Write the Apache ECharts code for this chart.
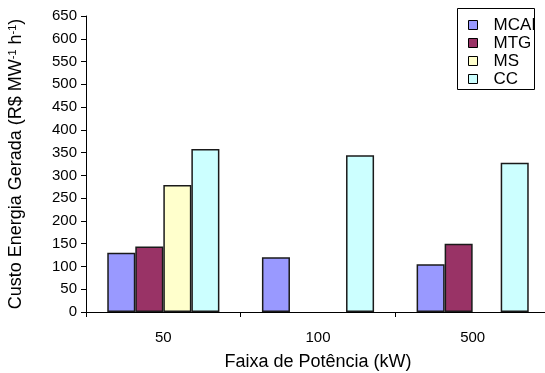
<!DOCTYPE html>
<html>
<head>
<meta charset="utf-8">
<script src="https://cdn.jsdelivr.net/npm/echarts@6/dist/echarts.min.js"></script>
<style>
html,body{margin:0;padding:0;background:#fff;}
#chart{width:545px;height:373px;}
</style>
</head>
<body>
<div id="chart"></div>
<script>
var categories = ['50', '100', '500'];
var seriesNames = ['MCAI', 'MTG', 'MS', 'CC'];
var mcai = [130, 120, 105];
var mtg = [144, null, 150];
var ms = [279, null, null];
var cc = [358, 344, 328];
var yTicks = {min: 0, max: 650, interval: 50};

var colors = ['#9999FF', '#993366', '#FFFFCC', '#CCFFFF'];
var FONT = 'Liberation Sans, Arial, sans-serif';
var chart = echarts.init(document.getElementById('chart'), null, {renderer: 'canvas'});

function bar(name, data, color) {
  return {
    name: name,
    type: 'bar',
    data: data,
    barGap: '0%',
    barCategoryGap: '27.5%',
    itemStyle: {color: color, borderColor: '#1a1a1a', borderWidth: 1.5},
    emphasis: {disabled: true}
  };
}

chart.setOption({
  backgroundColor: '#fff',
  animation: false,
  textStyle: {fontFamily: FONT, color: '#000'},
  grid: {left: 86, top: 16, width: 464, bottom: 61, containLabel: false, outerBoundsMode: 'none'},
  graphic: [{
    type: 'rect',
    shape: {x: 457.5, y: 8.5, width: 77, height: 81},
    style: {fill: '#fff', stroke: '#000', lineWidth: 1},
    z: 1
  }],
  legend: {
    orient: 'vertical',
    left: 468,
    top: 16,
    padding: 0,
    itemGap: 0,
    itemWidth: 9,
    itemHeight: 9,
    icon: 'rect',
    z: 5,
    itemStyle: {borderColor: '#000', borderWidth: 1},
    textStyle: {fontFamily: FONT, fontSize: 17, color: '#000', lineHeight: 18, padding: [0, 0, 0, 11]},
    data: seriesNames
  },
  xAxis: {
    type: 'category',
    data: categories,
    name: 'Faixa de Potência (kW)',
    nameLocation: 'middle',
    nameGap: 41,
    nameTextStyle: {fontFamily: FONT, fontSize: 18, color: '#000'},
    axisLine: {lineStyle: {color: '#000', width: 1}},
    axisTick: {show: true, length: 5, lineStyle: {color: '#000'}},
    axisLabel: {fontFamily: FONT, fontSize: 15, color: '#000', margin: 18}
  },
  yAxis: {
    type: 'value',
    min: yTicks.min,
    max: yTicks.max,
    interval: yTicks.interval,
    name: 'Custo Energia Gerada (R$ MW{sup|-1} h{sup|-1})',
    nameLocation: 'middle',
    nameRotate: 90,
    nameGap: 60,
    nameTextStyle: {
      fontFamily: FONT, fontSize: 18, color: '#000', lineHeight: 19,
      rich: {sup: {fontFamily: FONT, fontSize: 11, color: '#000', verticalAlign: 'top', lineHeight: 19}}
    },
    axisLine: {show: true, lineStyle: {color: '#000', width: 1}},
    axisTick: {show: true, length: 5, lineStyle: {color: '#000'}},
    axisLabel: {fontFamily: FONT, fontSize: 15, color: '#000', margin: 9},
    splitLine: {show: false}
  },
  series: [
    bar(seriesNames[0], mcai, colors[0]),
    bar(seriesNames[1], mtg, colors[1]),
    bar(seriesNames[2], ms, colors[2]),
    bar(seriesNames[3], cc, colors[3])
  ]
});
</script>
</body>
</html>
